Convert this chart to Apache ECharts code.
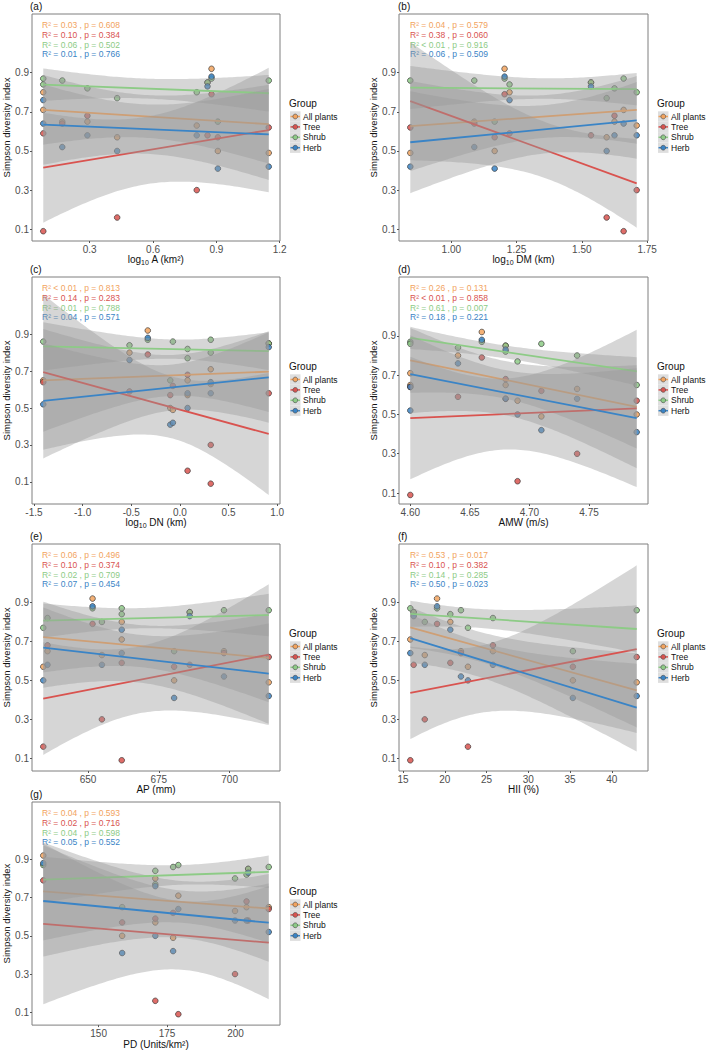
<!DOCTYPE html>
<html>
<head>
<meta charset="utf-8">
<script src="https://cdn.jsdelivr.net/npm/echarts@6/dist/echarts.min.js"></script>
<style>
  html, body { margin: 0; padding: 0; background: #fff; }
  #chart { width: 709px; height: 1050px; }
</style>
</head>
<body>
<div id="chart"></div>
<script>
// Simpson diversity index of the 10 sites, one array per group (same site order everywhere)
const groups = ['All plants', 'Tree', 'Shrub', 'Herb'];
const allPlants = [0.92, 0.80, 0.63, 0.57, 0.50, 0.71, 0.65, 0.85, 0.49, 0.65];
const tree      = [0.79, 0.59, 0.30, 0.16, 0.57, 0.09, 0.64, 0.58, 0.62, 0.68];
const shrub     = [0.87, 0.84, 0.80, 0.77, 0.65, 0.87, 0.86, 0.85, 0.86, 0.82];
const herb      = [0.88, 0.76, 0.58, 0.50, 0.41, 0.64, 0.52, 0.83, 0.42, 0.58];

// landscape predictors of the same sites
const logA  = [0.877, 0.08, 0.807, 0.43, 0.907, 0.08, 0.17, 0.858, 1.148, 0.289];
const logDM = [1.204, 1.223, 1.71, 1.595, 1.166, 1.66, 1.088, 1.535, 0.843, 1.625];
const logDN = [-0.33, -0.518, 0.317, 0.079, -0.099, 0.317, -1.404, 0.913, -0.072, 0.079];
const amw   = [4.66, 4.64, 4.74, 4.69, 4.79, 4.60, 4.60, 4.68, 4.71, 4.68];
const ap    = [651.6, 661.9, 654.9, 634.2, 680.4, 661.9, 698.0, 685.9, 713.8, 635.7];
const hii   = [19.07, 20.66, 17.6, 22.77, 35.33, 15.87, 21.93, 16.27, 42.97, 25.76];
const pd    = [129.8, 170.7, 199.8, 170.7, 158.6, 179.1, 212.1, 204.6, 177.2, 204.0];

// fit statistics printed in each panel (All plants, Tree, Shrub, Herb)
const statsA = ['R² = 0.03 , p = 0.608', 'R² = 0.10 , p = 0.384', 'R² = 0.06 , p = 0.502', 'R² = 0.01 , p = 0.766'];
const statsB = ['R² = 0.04 , p = 0.579', 'R² = 0.38 , p = 0.060', 'R² < 0.01 , p = 0.916', 'R² = 0.06 , p = 0.509'];
const statsC = ['R² < 0.01 , p = 0.813', 'R² = 0.14 , p = 0.283', 'R² = 0.01 , p = 0.788', 'R² = 0.04 , p = 0.571'];
const statsD = ['R² = 0.26 , p = 0.131', 'R² < 0.01 , p = 0.858', 'R² = 0.61 , p = 0.007', 'R² = 0.18 , p = 0.221'];
const statsE = ['R² = 0.06 , p = 0.496', 'R² = 0.10 , p = 0.374', 'R² = 0.02 , p = 0.709', 'R² = 0.07 , p = 0.454'];
const statsF = ['R² = 0.53 , p = 0.017', 'R² = 0.10 , p = 0.382', 'R² = 0.14 , p = 0.285', 'R² = 0.50 , p = 0.023'];
const statsG = ['R² = 0.04 , p = 0.593', 'R² = 0.02 , p = 0.716', 'R² = 0.04 , p = 0.598', 'R² = 0.05 , p = 0.552'];

// axis ticks
const yTicks = [0.1, 0.3, 0.5, 0.7, 0.9];
const ticksA = [0.3, 0.6, 0.9, 1.2];
const ticksB = [1.00, 1.25, 1.50, 1.75];
const ticksC = [-1.5, -1.0, -0.5, 0.0, 0.5, 1.0];
const ticksD = [4.60, 4.65, 4.70, 4.75];
const ticksE = [650, 675, 700];
const ticksF = [15, 20, 25, 30, 35, 40];
const ticksG = [150, 175, 200];

const panels = [
  { tag: '(a)', x: logA,  title: ['log', '10', ' A (km²)'], ticks: ticksA, dec: 1, y: [0.04, 1.2],   stats: statsA },
  { tag: '(b)', x: logDM, title: ['log', '10', ' DM (km)'], ticks: ticksB, dec: 2, y: [0.04, 1.2],   stats: statsB },
  { tag: '(c)', x: logDN, title: ['log', '10', ' DN (km)'], ticks: ticksC, dec: 1, y: [-0.02, 1.21], stats: statsC },
  { tag: '(d)', x: amw,   title: ['AMW (m/s)'],             ticks: ticksD, dec: 2, y: [0.044, 1.2],  stats: statsD },
  { tag: '(e)', x: ap,    title: ['AP (mm)'],               ticks: ticksE, dec: 0, y: [0.035, 1.2],  stats: statsE },
  { tag: '(f)', x: hii,   title: ['HII (%)'],               ticks: ticksF, dec: 0, y: [0.035, 1.2],  stats: statsF },
  { tag: '(g)', x: pd,    title: ['PD (Units/km²)'],        ticks: ticksG, dec: 0, y: [0.033, 1.2],  stats: statsG }
];

const FONT = '"Liberation Sans", Arial, Helvetica, sans-serif';
const COLORS = ['#F2A35E', '#D9534F', '#8DCB86', '#3A84C6'];
const RIBBON = 'rgba(153,153,153,0.4)';
const T975 = 2.306; // t(0.975, df = 8)
const LEFTS = [31, 399];
const TOPS = [14, 277, 544, 802];
const W = 249, H = 227;

// ordinary least squares with 95% confidence band, like geom_smooth(method = "lm")
function lmBand(xs, ys) {
  const n = xs.length;
  const mx = xs.reduce((s, v) => s + v, 0) / n;
  const my = ys.reduce((s, v) => s + v, 0) / n;
  let sxx = 0, sxy = 0;
  xs.forEach((x, i) => { sxx += (x - mx) ** 2; sxy += (x - mx) * (ys[i] - my); });
  const b = sxy / sxx, a = my - b * mx;
  let sse = 0;
  xs.forEach((x, i) => { sse += (ys[i] - a - b * x) ** 2; });
  const s = Math.sqrt(sse / (n - 2));
  const lo = Math.min(...xs), hi = Math.max(...xs);
  const band = [];
  for (let k = 0; k <= 80; k++) {
    const x = lo + (hi - lo) * k / 80;
    const fit = a + b * x;
    const se = s * Math.sqrt(1 / n + (x - mx) ** 2 / sxx);
    band.push([x, fit - T975 * se, fit + T975 * se]);
  }
  return { line: [[lo, a + b * lo], [hi, a + b * hi]], band };
}

const ys = [allPlants, tree, shrub, herb];
const option = { animation: false, grid: [], xAxis: [], yAxis: [], series: [], graphic: [] };

panels.forEach((p, i) => {
  const left = LEFTS[i % 2], top = TOPS[Math.floor(i / 2)];
  const lo = Math.min(...p.x), hi = Math.max(...p.x), pad = (hi - lo) * 0.05;

  option.grid.push({ left, top, width: W, height: H, show: true, borderColor: '#7f7f7f', borderWidth: 1 });

  const name = p.title.length === 3
    ? `{t|${p.title[0]}}{s|${p.title[1]}}{t|${p.title[2]}}`
    : `{t|${p.title[0]}}`;
  option.xAxis.push({
    gridIndex: i, type: 'value', min: lo - pad, max: hi + pad,
    axisLine: { show: false, onZero: false }, splitLine: { show: false },
    axisTick: { show: true, length: 2, customValues: p.ticks, lineStyle: { color: '#555' } },
    axisLabel: { customValues: p.ticks, formatter: v => v.toFixed(p.dec), fontSize: 10, color: '#4d4d4d', margin: 3, fontFamily: FONT },
    name, nameLocation: 'middle', nameGap: 11,
    nameTextStyle: {
      fontFamily: FONT, color: '#111',
      rich: {
        t: { fontSize: 10, lineHeight: 13, color: '#111', fontFamily: FONT },
        s: { fontSize: 7, lineHeight: 8, verticalAlign: 'bottom', color: '#111', fontFamily: FONT }
      }
    }
  });
  option.yAxis.push({
    gridIndex: i, type: 'value', min: p.y[0], max: p.y[1],
    axisLine: { show: false, onZero: false }, splitLine: { show: false },
    axisTick: { show: true, length: 2, customValues: yTicks, lineStyle: { color: '#555' } },
    axisLabel: { customValues: yTicks, formatter: v => v.toFixed(1), fontSize: 10, color: '#4d4d4d', margin: 3, fontFamily: FONT },
    name: 'Simpson diversity index', nameLocation: 'middle', nameRotate: 90, nameGap: 21,
    nameTextStyle: { fontSize: 9.5, color: '#111', fontFamily: FONT }
  });

  // points sit under the smoothers
  ys.forEach((yv, g) => {
    option.series.push({
      type: 'scatter', name: groups[g], xAxisIndex: i, yAxisIndex: i, z: 2,
      data: p.x.map((x, k) => [x, yv[k]]),
      symbolSize: 5.6,
      itemStyle: { color: COLORS[g], borderColor: '#333', borderWidth: 0.8, opacity: 0.85 }
    });
  });

  ys.forEach((yv, g) => {
    const fit = lmBand(p.x, yv);
    option.series.push({
      type: 'custom', xAxisIndex: i, yAxisIndex: i, z: 3 + 2 * g, silent: true,
      data: fit.band, encode: { x: 0, y: [1, 2] },
      renderItem: (params, api) => {
        if (params.dataIndex !== 0) return null;
        const up = fit.band.map(d => api.coord([d[0], d[2]]));
        const dn = fit.band.slice().reverse().map(d => api.coord([d[0], d[1]]));
        return { type: 'polygon', shape: { points: up.concat(dn) }, style: { fill: RIBBON } };
      }
    });
    option.series.push({
      type: 'line', name: groups[g], xAxisIndex: i, yAxisIndex: i, z: 4 + 2 * g, silent: true,
      data: fit.line, symbol: 'none',
      lineStyle: { color: COLORS[g], width: 1.8 }
    });
  });

  // panel tag, fit statistics, legend
  option.graphic.push({ type: 'text', x: left - 1, y: top - 8,
    style: { text: p.tag, fontSize: 10, fontFamily: FONT, fill: '#111', verticalAlign: 'middle' } });
  p.stats.forEach((s, g) => {
    option.graphic.push({ type: 'text', x: left + 11, y: top + 11 + 9.8 * g,
      style: { text: s, fontSize: 8.5, fontFamily: FONT, fill: COLORS[g], verticalAlign: 'middle' } });
  });
  const lx = left + W + 10;
  option.graphic.push({ type: 'text', x: lx - 1, y: top + 89.5,
    style: { text: 'Group', fontSize: 10, fontFamily: FONT, fill: '#111', verticalAlign: 'middle' } });
  groups.forEach((gname, g) => {
    const cy = top + 102.5 + 10.4 * g;
    option.graphic.push(
      { type: 'rect', shape: { x: lx, y: cy - 5.2, width: 10.5, height: 10.4 }, style: { fill: '#dedede' } },
      { type: 'line', shape: { x1: lx + 0.5, y1: cy, x2: lx + 10, y2: cy }, style: { stroke: COLORS[g], lineWidth: 1.5 } },
      { type: 'circle', shape: { cx: lx + 5.25, cy, r: 2.4 }, style: { fill: COLORS[g], stroke: '#555', lineWidth: 0.7 } },
      { type: 'text', x: lx + 13, y: cy,
        style: { text: gname, fontSize: 8.5, fontFamily: FONT, fill: '#111', verticalAlign: 'middle' } }
    );
  });
});

const chart = echarts.init(document.getElementById('chart'), null, { renderer: 'svg' });
chart.setOption(option);
</script>
</body>
</html>
